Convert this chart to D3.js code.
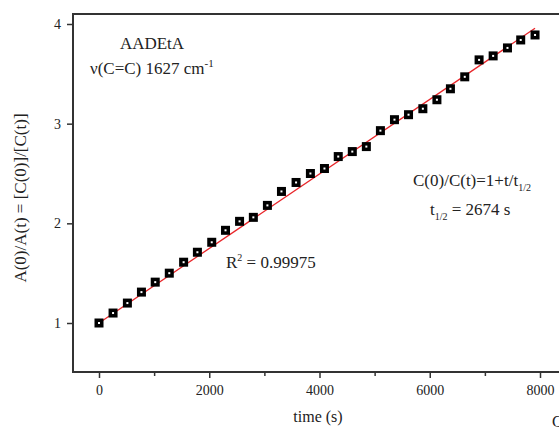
<!DOCTYPE html>
<html>
<head>
<meta charset="utf-8">
<script src="https://cdn.jsdelivr.net/npm/d3@7"></script>
<style>
  body { margin: 0; background: #fff; }
  svg text { font-family: "Liberation Serif", "Times New Roman", serif; fill: #222; }
</style>
</head>
<body>
<div id="chart"></div>
<script>
// ---------------------- data ----------------------
var times = [0, 255, 515, 770, 1020, 1275, 1535, 1785, 2045, 2295, 2550, 2800,
             3055, 3310, 3575, 3835, 4090, 4340, 4595, 4850, 5105, 5360, 5615,
             5875, 6130, 6375, 6635, 6895, 7150, 7410, 7650, 7910];
var ratio = [1.00, 1.10, 1.20, 1.31, 1.41, 1.50, 1.61, 1.71, 1.81, 1.93, 2.02, 2.06,
             2.18, 2.32, 2.41, 2.50, 2.55, 2.67, 2.72, 2.77, 2.93, 3.04, 3.09,
             3.15, 3.24, 3.35, 3.47, 3.64, 3.68, 3.76, 3.84, 3.89];
var halfLife = 2674;          // t1/2 from the fit
var fitRange = [-40, 7910];   // time span of the red fit line
var xTicks = [0, 2000, 4000, 6000, 8000];
var xMinor = [1000, 3000, 5000, 7000];
var yTicks = [1, 2, 3, 4];

// ---------------------- setup ----------------------
var W = 559, H = 428;
var frameL = 73, frameR = 559, frameT = 14, frameB = 372;

var svg = d3.select("#chart")
     .append("svg")
     .attr("width", W)
     .attr("height", H);

var x = d3.scaleLinear().domain([0, 8000]).range([99, 540]);
var y = d3.scaleLinear().domain([1, 4]).range([323, 24]);

// frame (left, top, bottom - right side is cut off)
svg.append("path")
     .attr("d", "M" + frameR + "," + frameT + "H" + frameL + "V" + frameB + "H" + frameR)
     .attr("fill", "none")
     .attr("stroke", "#333")
     .attr("stroke-width", 2);

// x axis
svg.append("g")
     .attr("transform", "translate(0," + frameB + ")")
     .call(d3.axisBottom(x).tickValues(xTicks).tickSize(6).tickPadding(7).tickFormat(d3.format("d")));
svg.append("g")
     .attr("transform", "translate(0," + frameB + ")")
     .call(d3.axisBottom(x).tickValues(xMinor).tickSize(4).tickFormat(""));

// y axis
svg.append("g")
     .attr("transform", "translate(" + frameL + ",0)")
     .call(d3.axisLeft(y).tickValues(yTicks).tickSize(6).tickPadding(6).tickFormat(d3.format("d")));

svg.selectAll(".domain").remove();
svg.selectAll(".tick line").attr("stroke", "#333").attr("stroke-width", 1.5);
svg.selectAll(".tick text")
     .style("font-family", "'Liberation Serif', serif")
     .style("font-size", "14px")
     .attr("fill", "#222");

// fit line
svg.append("line")
     .attr("x1", x(fitRange[0]))
     .attr("y1", y(1 + fitRange[0] / halfLife))
     .attr("x2", x(fitRange[1]))
     .attr("y2", y(1 + fitRange[1] / halfLife))
     .attr("stroke", "#e8262a")
     .attr("stroke-width", 1.3);

// markers: black square with white dot
var pts = svg.selectAll("g.pt")
     .data(times.map(function (t, i) { return [t, ratio[i]]; }))
     .enter()
     .append("g")
     .attr("class", "pt")
     .attr("transform", function (d) { return "translate(" + x(d[0]) + "," + y(d[1]) + ")"; });
pts.append("rect")
     .attr("x", -4.5).attr("y", -4.5)
     .attr("width", 9).attr("height", 9)
     .attr("fill", "#000");
pts.append("rect")
     .attr("x", -1).attr("y", -1)
     .attr("width", 2).attr("height", 2)
     .attr("fill", "#fff");

// ---------------------- labels ----------------------
svg.append("text")
     .text("time (s)")
     .style("font-size", "16px")
     .attr("text-anchor", "middle")
     .attr("x", 318)
     .attr("y", 422);

svg.append("text")
     .text("C")
     .style("font-size", "16px")
     .attr("x", 552)
     .attr("y", 427);

svg.append("text")
     .text("A(0)/A(t) = [C(0)]/[C(t)]")
     .style("font-size", "17px")
     .attr("text-anchor", "middle")
     .attr("transform", "translate(26,198) rotate(-90)");

svg.append("text")
     .text("AADEtA")
     .style("font-size", "17px")
     .attr("text-anchor", "middle")
     .attr("x", 152)
     .attr("y", 49);

var nu = svg.append("text")
     .style("font-size", "17px")
     .attr("x", 90)
     .attr("y", 74);
nu.append("tspan").text("\u03bd(C=C) 1627 cm");
nu.append("tspan").text("-1").style("font-size", "11px").attr("dy", -7);

var eq = svg.append("text")
     .style("font-size", "17px")
     .attr("x", 413)
     .attr("y", 186);
eq.append("tspan").text("C(0)/C(t)=1+t/t");
eq.append("tspan").text("1/2").style("font-size", "10px").attr("dy", 5);

var th = svg.append("text")
     .style("font-size", "17px")
     .attr("x", 430)
     .attr("y", 215);
th.append("tspan").text("t");
th.append("tspan").text("1/2").style("font-size", "10px").attr("dy", 5);
th.append("tspan").text(" = " + halfLife + " s").attr("dy", -5);

var r2 = svg.append("text")
     .style("font-size", "17px")
     .attr("x", 226)
     .attr("y", 268);
r2.append("tspan").text("R");
r2.append("tspan").text("2").style("font-size", "10px").attr("dy", -7);
r2.append("tspan").text(" = 0.99975").attr("dy", 7);
</script>
</body>
</html>
